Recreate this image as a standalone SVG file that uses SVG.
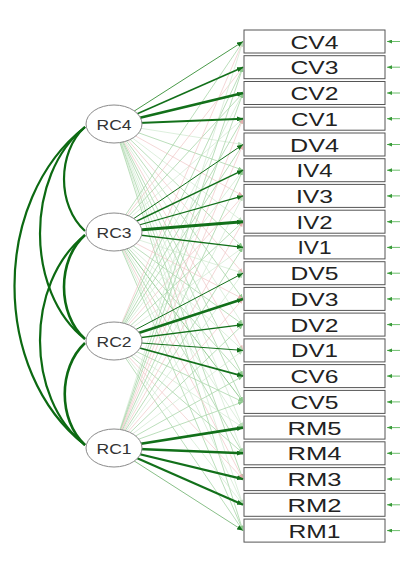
<svg xmlns="http://www.w3.org/2000/svg" width="400" height="562" viewBox="0 0 400 562">
<style>
.a{stroke:#a9d6a9;stroke-width:0.8;fill:none;marker-end:url(#ma)}
.b{stroke:#cfe8cf;stroke-width:0.7;fill:none;marker-end:url(#mb)}
.p{stroke:#efc6c6;stroke-width:0.7;fill:none;marker-end:url(#mp)}
.m{stroke:#12701a;fill:none;marker-end:url(#md)}
.cov{stroke:#0c6a12;stroke-width:2.2;fill:none}
.r{stroke:#6cbf6c;stroke-width:1;marker-end:url(#mr)}
.box rect{fill:#fff;stroke:#555;stroke-width:1}
.box text{font-family:"Liberation Sans",Arial,sans-serif;font-size:18.5px;fill:#222;text-anchor:middle}
.rc ellipse{fill:#fff;stroke:#8a8a8a;stroke-width:1}
.rc text{font-family:"Liberation Sans",Arial,sans-serif;font-size:14px;fill:#333;text-anchor:middle}
</style>
<defs>
<marker id="md" markerWidth="6" markerHeight="5" refX="6" refY="2.5" orient="auto" markerUnits="userSpaceOnUse"><path d="M0,0L6,2.5L0,5z" fill="#12701a"/></marker>
<marker id="ma" markerWidth="5" markerHeight="4" refX="5" refY="2" orient="auto" markerUnits="userSpaceOnUse"><path d="M0,0L5,2L0,4z" fill="#8cc88c"/></marker>
<marker id="mb" markerWidth="5" markerHeight="4" refX="5" refY="2" orient="auto" markerUnits="userSpaceOnUse"><path d="M0,0L5,2L0,4z" fill="#b8ddb8"/></marker>
<marker id="mp" markerWidth="5" markerHeight="4" refX="5" refY="2" orient="auto" markerUnits="userSpaceOnUse"><path d="M0,0L5,2L0,4z" fill="#e6b0b0"/></marker>
<marker id="mr" markerWidth="5" markerHeight="4" refX="5" refY="2" orient="auto" markerUnits="userSpaceOnUse"><path d="M0,0L5,2L0,4z" fill="#3a9a3a"/></marker>
</defs>
<rect width="400" height="562" fill="#fff"/>
<g id="connectors">
<!-- faint loadings RC4 -->
<line class="b" x1="114" y1="124" x2="243" y2="144.5"/>
<line class="a" x1="114" y1="124" x2="243" y2="170.2"/>
<line class="p" x1="114" y1="124" x2="243" y2="195.9"/>
<line class="b" x1="114" y1="124" x2="243" y2="221.7"/>
<line class="a" x1="114" y1="124" x2="243" y2="247.4"/>
<line class="p" x1="114" y1="124" x2="243" y2="273.2"/>
<line class="a" x1="114" y1="124" x2="243" y2="298.9"/>
<line class="b" x1="114" y1="124" x2="243" y2="324.6"/>
<line class="p" x1="114" y1="124" x2="243" y2="350.4"/>
<line class="a" x1="114" y1="124" x2="243" y2="376.1"/>
<line class="a" x1="114" y1="124" x2="243" y2="401.9"/>
<line class="b" x1="114" y1="124" x2="243" y2="427.6"/>
<line class="b" x1="114" y1="124" x2="243" y2="453.3"/>
<line class="a" x1="114" y1="124" x2="243" y2="479.1"/>
<line class="b" x1="114" y1="124" x2="243" y2="504.8"/>
<line class="a" x1="114" y1="124" x2="243" y2="530.6"/>
<!-- faint loadings RC3 -->
<line class="a" x1="114" y1="232" x2="243" y2="41.5"/>
<line class="p" x1="114" y1="232" x2="243" y2="67.2"/>
<line class="a" x1="114" y1="232" x2="243" y2="93"/>
<line class="b" x1="114" y1="232" x2="243" y2="118.7"/>
<line class="b" x1="114" y1="232" x2="243" y2="273.2"/>
<line class="p" x1="114" y1="232" x2="243" y2="298.9"/>
<line class="a" x1="114" y1="232" x2="243" y2="324.6"/>
<line class="b" x1="114" y1="232" x2="243" y2="350.4"/>
<line class="a" x1="114" y1="232" x2="243" y2="376.1"/>
<line class="a" x1="114" y1="232" x2="243" y2="401.9" style="stroke:#8cc78c;stroke-width:0.9"/>
<line class="b" x1="114" y1="232" x2="243" y2="427.6"/>
<line class="a" x1="114" y1="232" x2="243" y2="453.3"/>
<line class="p" x1="114" y1="232" x2="243" y2="479.1"/>
<line class="b" x1="114" y1="232" x2="243" y2="504.8"/>
<line class="a" x1="114" y1="232" x2="243" y2="530.6"/>
<!-- faint loadings RC2 -->
<line class="p" x1="114" y1="341" x2="243" y2="41.5"/>
<line class="a" x1="114" y1="341" x2="243" y2="67.2"/>
<line class="b" x1="114" y1="341" x2="243" y2="93"/>
<line class="a" x1="114" y1="341" x2="243" y2="118.7"/>
<line class="a" x1="114" y1="341" x2="243" y2="144.5"/>
<line class="b" x1="114" y1="341" x2="243" y2="170.2"/>
<line class="p" x1="114" y1="341" x2="243" y2="195.9"/>
<line class="a" x1="114" y1="341" x2="243" y2="221.7"/>
<line class="b" x1="114" y1="341" x2="243" y2="247.4"/>
<line class="a" x1="114" y1="341" x2="243" y2="401.9"/>
<line class="b" x1="114" y1="341" x2="243" y2="427.6"/>
<line class="a" x1="114" y1="341" x2="243" y2="453.3"/>
<line class="p" x1="114" y1="341" x2="243" y2="479.1"/>
<line class="b" x1="114" y1="341" x2="243" y2="504.8"/>
<line class="a" x1="114" y1="341" x2="243" y2="530.6"/>
<!-- faint loadings RC1 -->
<line class="b" x1="114" y1="448" x2="243" y2="41.5"/>
<line class="a" x1="114" y1="448" x2="243" y2="67.2"/>
<line class="a" x1="114" y1="448" x2="243" y2="93"/>
<line class="p" x1="114" y1="448" x2="243" y2="118.7"/>
<line class="p" x1="114" y1="448" x2="243" y2="144.5"/>
<line class="a" x1="114" y1="448" x2="243" y2="170.2"/>
<line class="b" x1="114" y1="448" x2="243" y2="195.9"/>
<line class="p" x1="114" y1="448" x2="243" y2="221.7"/>
<line class="a" x1="114" y1="448" x2="243" y2="247.4"/>
<line class="b" x1="114" y1="448" x2="243" y2="273.2"/>
<line class="p" x1="114" y1="448" x2="243" y2="298.9"/>
<line class="a" x1="114" y1="448" x2="243" y2="324.6"/>
<line class="b" x1="114" y1="448" x2="243" y2="350.4"/>
<line class="a" x1="114" y1="448" x2="243" y2="376.1"/>
<line class="a" x1="114" y1="448" x2="243" y2="401.9"/>
<!-- main loadings -->
<line class="m" x1="114" y1="124" x2="243" y2="41.5" style="stroke-width:1;stroke:#4a9a4a"/>
<line class="m" x1="114" y1="124" x2="243" y2="67.2" style="stroke-width:1.6"/>
<line class="m" x1="114" y1="124" x2="243" y2="93" style="stroke-width:2.8"/>
<line class="m" x1="114" y1="124" x2="243" y2="118.7" style="stroke-width:2"/>
<line class="m" x1="114" y1="232" x2="243" y2="144.5" style="stroke-width:1"/>
<line class="m" x1="114" y1="232" x2="243" y2="170.2" style="stroke-width:1.4"/>
<line class="m" x1="114" y1="232" x2="243" y2="195.9" style="stroke-width:1.1"/>
<line class="m" x1="114" y1="232" x2="243" y2="221.7" style="stroke-width:3"/>
<line class="m" x1="114" y1="232" x2="243" y2="247.4" style="stroke-width:1.3"/>
<line class="m" x1="114" y1="341" x2="243" y2="273.2" style="stroke-width:1"/>
<line class="m" x1="114" y1="341" x2="243" y2="298.9" style="stroke-width:2.6"/>
<line class="m" x1="114" y1="341" x2="243" y2="324.6" style="stroke-width:1.3"/>
<line class="m" x1="114" y1="341" x2="243" y2="350.4" style="stroke-width:1"/>
<line class="m" x1="114" y1="341" x2="243" y2="376.1" style="stroke-width:1.8"/>
<line class="m" x1="114" y1="448" x2="243" y2="427.6" style="stroke-width:2.6"/>
<line class="m" x1="114" y1="448" x2="243" y2="453.3" style="stroke-width:2.5"/>
<line class="m" x1="114" y1="448" x2="243" y2="479.1" style="stroke-width:2.2"/>
<line class="m" x1="114" y1="448" x2="243" y2="504.8" style="stroke-width:2.2"/>
<line class="m" x1="114" y1="448" x2="243" y2="530.6" style="stroke-width:0.9;stroke:#7ab87a"/>
<!-- covariances -->
<path class="cov" d="M85,127 C57,152 57,206 85,231"/>
<path class="cov" d="M85,127 C25,175 25,292 85,339"/>
<path class="cov" d="M85,127 C-9,200 -9,372 85,445"/>
<path class="cov" d="M85,235 C57,260 57,314 85,339" style="stroke-width:2.6"/>
<path class="cov" d="M85,235 C25,283 25,398 85,445"/>
<path class="cov" d="M85,343 C58,368 58,420 85,445" style="stroke-width:2.6"/>
<!-- residual arrows -->
<line class="r" x1="400" y1="41.5" x2="387" y2="41.5"/>
<line class="r" x1="400" y1="67.2" x2="387" y2="67.2"/>
<line class="r" x1="400" y1="93" x2="387" y2="93"/>
<line class="r" x1="400" y1="118.7" x2="387" y2="118.7"/>
<line class="r" x1="400" y1="144.5" x2="387" y2="144.5"/>
<line class="r" x1="400" y1="170.2" x2="387" y2="170.2"/>
<line class="r" x1="400" y1="195.9" x2="387" y2="195.9"/>
<line class="r" x1="400" y1="221.7" x2="387" y2="221.7"/>
<line class="r" x1="400" y1="247.4" x2="387" y2="247.4"/>
<line class="r" x1="400" y1="273.2" x2="387" y2="273.2"/>
<line class="r" x1="400" y1="298.9" x2="387" y2="298.9"/>
<line class="r" x1="400" y1="324.6" x2="387" y2="324.6"/>
<line class="r" x1="400" y1="350.4" x2="387" y2="350.4"/>
<line class="r" x1="400" y1="376.1" x2="387" y2="376.1"/>
<line class="r" x1="400" y1="401.9" x2="387" y2="401.9"/>
<line class="r" x1="400" y1="427.6" x2="387" y2="427.6"/>
<line class="r" x1="400" y1="453.3" x2="387" y2="453.3"/>
<line class="r" x1="400" y1="479.1" x2="387" y2="479.1"/>
<line class="r" x1="400" y1="504.8" x2="387" y2="504.8"/>
<line class="r" x1="400" y1="530.6" x2="387" y2="530.6"/>
</g>
<g id="RC4" class="rc"><ellipse cx="114" cy="124" rx="28" ry="19"/><text x="114" y="130" textLength="35" lengthAdjust="spacingAndGlyphs">RC4</text></g>
<g id="RC3" class="rc"><ellipse cx="114" cy="232" rx="28" ry="19"/><text x="114" y="238" textLength="35" lengthAdjust="spacingAndGlyphs">RC3</text></g>
<g id="RC2" class="rc"><ellipse cx="114" cy="341" rx="28" ry="19"/><text x="114" y="347" textLength="35" lengthAdjust="spacingAndGlyphs">RC2</text></g>
<g id="RC1" class="rc"><ellipse cx="114" cy="448" rx="28" ry="19"/><text x="114" y="454" textLength="35" lengthAdjust="spacingAndGlyphs">RC1</text></g>
<g id="CV4" class="box"><rect x="244" y="30" width="141" height="23"/><text x="314.5" y="48.5" textLength="48" lengthAdjust="spacingAndGlyphs">CV4</text></g>
<g id="CV3" class="box"><rect x="244" y="55.7" width="141" height="23"/><text x="314.5" y="74.2" textLength="48" lengthAdjust="spacingAndGlyphs">CV3</text></g>
<g id="CV2" class="box"><rect x="244" y="81.5" width="141" height="23"/><text x="314.5" y="100" textLength="48" lengthAdjust="spacingAndGlyphs">CV2</text></g>
<g id="CV1" class="box"><rect x="244" y="107.2" width="141" height="23"/><text x="314.5" y="125.7" textLength="47" lengthAdjust="spacingAndGlyphs">CV1</text></g>
<g id="DV4" class="box"><rect x="244" y="133" width="141" height="23"/><text x="314.5" y="151.5" textLength="49" lengthAdjust="spacingAndGlyphs">DV4</text></g>
<g id="IV4" class="box"><rect x="244" y="158.7" width="141" height="23"/><text x="314.5" y="177.2" textLength="36" lengthAdjust="spacingAndGlyphs">IV4</text></g>
<g id="IV3" class="box"><rect x="244" y="184.4" width="141" height="23"/><text x="314.5" y="202.9" textLength="37" lengthAdjust="spacingAndGlyphs">IV3</text></g>
<g id="IV2" class="box"><rect x="244" y="210.2" width="141" height="23"/><text x="314.5" y="228.7" textLength="36" lengthAdjust="spacingAndGlyphs">IV2</text></g>
<g id="IV1" class="box"><rect x="244" y="235.9" width="141" height="23"/><text x="314.5" y="254.4" textLength="34" lengthAdjust="spacingAndGlyphs">IV1</text></g>
<g id="DV5" class="box"><rect x="244" y="261.7" width="141" height="23"/><text x="314.5" y="280.2" textLength="48" lengthAdjust="spacingAndGlyphs">DV5</text></g>
<g id="DV3" class="box"><rect x="244" y="287.4" width="141" height="23"/><text x="314.5" y="305.9" textLength="48" lengthAdjust="spacingAndGlyphs">DV3</text></g>
<g id="DV2" class="box"><rect x="244" y="313.1" width="141" height="23"/><text x="314.5" y="331.6" textLength="48" lengthAdjust="spacingAndGlyphs">DV2</text></g>
<g id="DV1" class="box"><rect x="244" y="338.9" width="141" height="23"/><text x="314.5" y="357.4" textLength="47" lengthAdjust="spacingAndGlyphs">DV1</text></g>
<g id="CV6" class="box"><rect x="244" y="364.6" width="141" height="23"/><text x="314.5" y="383.1" textLength="48" lengthAdjust="spacingAndGlyphs">CV6</text></g>
<g id="CV5" class="box"><rect x="244" y="390.4" width="141" height="23"/><text x="314.5" y="408.9" textLength="48" lengthAdjust="spacingAndGlyphs">CV5</text></g>
<g id="RM5" class="box"><rect x="244" y="416.1" width="141" height="23"/><text x="314.5" y="434.6" textLength="54" lengthAdjust="spacingAndGlyphs">RM5</text></g>
<g id="RM4" class="box"><rect x="244" y="441.8" width="141" height="23"/><text x="314.5" y="460.3" textLength="54" lengthAdjust="spacingAndGlyphs">RM4</text></g>
<g id="RM3" class="box"><rect x="244" y="467.6" width="141" height="23"/><text x="314.5" y="486.1" textLength="54" lengthAdjust="spacingAndGlyphs">RM3</text></g>
<g id="RM2" class="box"><rect x="244" y="493.3" width="141" height="23"/><text x="314.5" y="511.8" textLength="54" lengthAdjust="spacingAndGlyphs">RM2</text></g>
<g id="RM1" class="box"><rect x="244" y="519.1" width="141" height="23"/><text x="314.5" y="537.6" textLength="52" lengthAdjust="spacingAndGlyphs">RM1</text></g>
</svg>
